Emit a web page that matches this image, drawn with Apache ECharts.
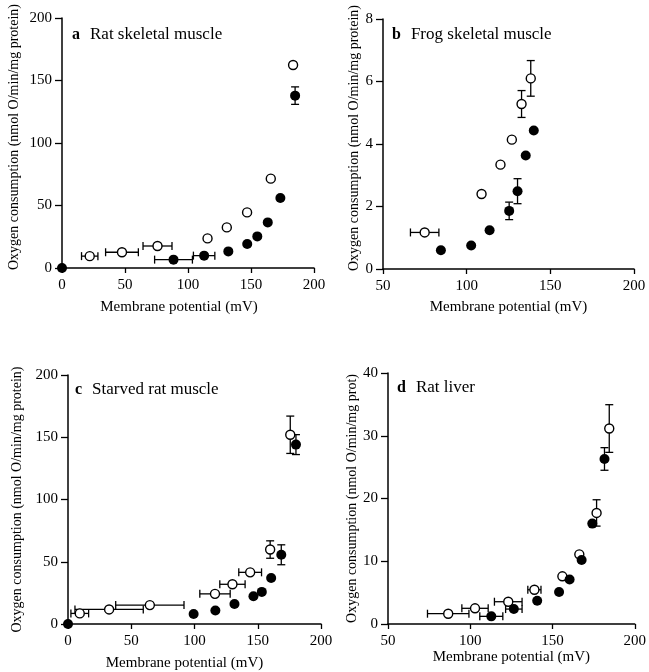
<!DOCTYPE html>
<html>
<head>
<meta charset="utf-8">
<script src="https://cdn.jsdelivr.net/npm/echarts@6/dist/echarts.min.js"></script>
<style>html,body{margin:0;padding:0;background:#fff;}#c{width:649px;height:672px;}</style>
</head>
<body>
<div id="c"></div>
<script>
// ---- Panel a: Rat skeletal muscle ----
const aOpenX = [22, 47.6, 75.8, 115.5, 130.8, 146.9, 165.7, 183.4];
const aOpenY = [9.5, 12.6, 17.6, 23.7, 32.5, 44.5, 71.5, 162.4];
const aOpenXErr = [6.5, 13, 11.5, 0, 0, 0, 0, 0];
const aOpenYErr = [0, 0, 0, 0, 0, 0, 0, 0];
const aFillX = [0, 88.5, 112.8, 132, 147, 155, 163.3, 173.3, 185];
const aFillY = [0, 6.7, 9.9, 13.3, 19.2, 25.3, 36.5, 56, 137.9];
const aFillXErr = [0, 15, 8.5, 0, 0, 0, 0, 0, 0];
const aFillYErr = [0, 0, 0, 0, 0, 0, 0, 0, 7];
// ---- Panel b: Frog skeletal muscle ----
const bOpenX = [74.9, 108.9, 120.2, 127, 132.8, 138.3];
const bOpenY = [1.17, 2.4, 3.34, 4.14, 5.28, 6.1];
const bOpenXErr = [8.5, 0, 0, 0, 0, 0];
const bOpenYErr = [0, 0, 0, 0, 0.43, 0.57];
const bFillX = [84.6, 102.7, 113.7, 125.4, 130.4, 135.3, 140.1];
const bFillY = [0.6, 0.75, 1.24, 1.86, 2.49, 3.63, 4.43];
const bFillXErr = [0, 0, 0, 0, 0, 0, 0];
const bFillYErr = [0, 0, 0, 0.28, 0.4, 0, 0];
// ---- Panel c: Starved rat muscle ----
const cOpenX = [9.3, 32.5, 64.7, 116.2, 130, 144, 159.8, 175.7];
const cOpenY = [8.5, 11.7, 15.2, 24.2, 31.9, 41.5, 59.8, 152];
const cOpenXErr = [7, 27, 27, 12, 10, 9, 0, 0];
const cOpenYErr = [0, 0, 0, 0, 0, 0, 7, 15];
const cFillX = [0, 99.3, 116.5, 131.6, 146.6, 153.2, 160.6, 168.6, 180.2];
const cFillY = [0, 8, 10.9, 16, 22.3, 25.8, 37, 55.6, 144.1];
const cFillXErr = [0, 0, 0, 0, 0, 0, 0, 0, 0];
const cFillYErr = [0, 0, 0, 0, 0, 0, 0, 8, 8];
// ---- Panel d: Rat liver ----
const dOpenX = [86.6, 102.9, 123.1, 139, 156, 166.3, 176.8, 184.5];
const dOpenY = [1.64, 2.5, 3.55, 5.46, 7.6, 11.1, 17.7, 31.15];
const dOpenXErr = [12.6, 8, 8.4, 4, 0, 0, 0, 0];
const dOpenYErr = [0, 0, 0, 0, 0, 0, 2.1, 3.8];
const dFillX = [112.8, 126.5, 140.7, 154, 160.4, 167.7, 174.2, 181.6];
const dFillY = [1.22, 2.38, 3.7, 5.1, 7.1, 10.2, 16, 26.3];
const dFillXErr = [7, 5, 0, 0, 0, 0, 0, 0];
const dFillYErr = [0, 0, 0, 0, 0, 0, 0, 1.8];

const panelLetters = ['a', 'b', 'c', 'd'];
const panelTitles = ['Rat skeletal muscle', 'Frog skeletal muscle', 'Starved rat muscle', 'Rat liver'];
const xName = 'Membrane potential (mV)';
const yNames = [
  'Oxygen consumption (nmol O/min/mg protein)',
  'Oxygen consumption (nmol O/min/mg protein)',
  'Oxygen consumption (nmol O/min/mg protein)',
  'Oxygen consumption (nmol O/min/mg prot)'
];
const xRanges = [[0, 200, 50], [50, 200, 50], [0, 200, 50], [50, 200, 50]];
const yRanges = [[0, 200, 50], [0, 8, 2], [0, 200, 50], [0, 40, 10]];

const panels = [
  {open: [aOpenX, aOpenY, aOpenXErr, aOpenYErr], fill: [aFillX, aFillY, aFillXErr, aFillYErr]},
  {open: [bOpenX, bOpenY, bOpenXErr, bOpenYErr], fill: [bFillX, bFillY, bFillXErr, bFillYErr]},
  {open: [cOpenX, cOpenY, cOpenXErr, cOpenYErr], fill: [cFillX, cFillY, cFillXErr, cFillYErr]},
  {open: [dOpenX, dOpenY, dOpenXErr, dOpenYErr], fill: [dFillX, dFillY, dFillXErr, dFillYErr]}
];

const FONT = "'Liberation Serif', 'Times New Roman', serif";
const gridBoxes = [
  {left: 62, top: 18, width: 252, height: 250},
  {left: 383, top: 19, width: 251, height: 250},
  {left: 68, top: 375, width: 253, height: 251},
  {left: 388, top: 373, width: 252, height: 251}
];
const yNameGaps = [41, 22, 44, 28];
const yNamePad = [[0, 0, 0, 12], [0, 0, 0, 12], [0, 0, 0, 0], [0, 0, 0, 0]];
const xNameGaps = [32, 31, 32, 21];
const xNamePad = [[0, 18, 0, 0], [0, 0, 0, 0], [0, 20, 0, 0], [0, 0, 0, 0]];
const titlePos = [{left: 72, top: 26}, {left: 392, top: 26}, {left: 75, top: 381}, {left: 397, top: 379}];

function toPts(arr) { return arr[0].map((x, i) => [x, arr[1][i], arr[2][i], arr[3][i]]); }

function errRender(params, api) {
  const x = api.value(0), y = api.value(1), xe = api.value(2), ye = api.value(3);
  const children = [];
  const cap = 4;
  const st = {stroke: '#000', lineWidth: 1.3};
  if (xe > 0) {
    const p1 = api.coord([x - xe, y]), p2 = api.coord([x + xe, y]);
    children.push({type: 'line', shape: {x1: p1[0], y1: p1[1], x2: p2[0], y2: p2[1]}, style: st});
    children.push({type: 'line', shape: {x1: p1[0], y1: p1[1] - cap, x2: p1[0], y2: p1[1] + cap}, style: st});
    children.push({type: 'line', shape: {x1: p2[0], y1: p2[1] - cap, x2: p2[0], y2: p2[1] + cap}, style: st});
  }
  if (ye > 0) {
    const p1 = api.coord([x, y - ye]), p2 = api.coord([x, y + ye]);
    children.push({type: 'line', shape: {x1: p1[0], y1: p1[1], x2: p2[0], y2: p2[1]}, style: st});
    children.push({type: 'line', shape: {x1: p1[0] - cap, y1: p1[1], x2: p1[0] + cap, y2: p1[1]}, style: st});
    children.push({type: 'line', shape: {x1: p2[0] - cap, y1: p2[1], x2: p2[0] + cap, y2: p2[1]}, style: st});
  }
  return {type: 'group', children: children};
}

const grid = [], xAxis = [], yAxis = [], series = [], title = [];
panels.forEach((p, i) => {
  grid.push(Object.assign({containLabel: false}, gridBoxes[i]));
  const axisCommon = {
    gridIndex: i,
    axisLine: {show: true, lineStyle: {color: '#000', width: 1.5}},
    splitLine: {show: false}
  };
  xAxis.push(Object.assign({}, axisCommon, {
    type: 'value', min: xRanges[i][0], max: xRanges[i][1], interval: xRanges[i][2],
    axisTick: {show: true, length: 5, lineStyle: {color: '#000', width: 1.3}},
    axisLabel: {color: '#000', fontFamily: FONT, fontSize: 15, margin: 10},
    name: xName, nameLocation: 'middle', nameGap: xNameGaps[i],
    nameTextStyle: {color: '#000', fontFamily: FONT, fontSize: 15, padding: xNamePad[i]}
  }));
  yAxis.push(Object.assign({}, axisCommon, {
    type: 'value', min: yRanges[i][0], max: yRanges[i][1], interval: yRanges[i][2],
    axisTick: {show: true, length: 7, lineStyle: {color: '#000', width: 1.3}},
    axisLabel: {color: '#000', fontFamily: FONT, fontSize: 15, margin: 10},
    name: yNames[i], nameLocation: 'middle', nameGap: yNameGaps[i],
    nameTextStyle: {color: '#000', fontFamily: FONT, fontSize: 14, padding: yNamePad[i]}
  }));
  title.push({
    text: '{b|' + panelLetters[i] + '}  {n|' + panelTitles[i] + '}',
    left: titlePos[i].left, top: titlePos[i].top, padding: 0,
    textStyle: {fontWeight: 'normal', rich: {
      b: {fontFamily: FONT, fontSize: 16, fontWeight: 'bold', color: '#000'},
      n: {fontFamily: FONT, fontSize: 17, fontWeight: 'normal', color: '#000'}
    }}
  });
  const openPts = toPts(p.open), fillPts = toPts(p.fill);
  series.push({type: 'custom', xAxisIndex: i, yAxisIndex: i, renderItem: errRender, data: openPts, z: 1, silent: true, clip: false});
  series.push({type: 'custom', xAxisIndex: i, yAxisIndex: i, renderItem: errRender, data: fillPts, z: 1, silent: true, clip: false});
  series.push({type: 'scatter', xAxisIndex: i, yAxisIndex: i, data: openPts.map(d => [d[0], d[1]]),
    symbol: 'circle', symbolSize: 9, z: 3,
    itemStyle: {color: '#fff', borderColor: '#000', borderWidth: 1.4, opacity: 1}});
  series.push({type: 'scatter', xAxisIndex: i, yAxisIndex: i, data: fillPts.map(d => [d[0], d[1]]),
    symbol: 'circle', symbolSize: 10, z: 4,
    itemStyle: {color: '#000', opacity: 1}});
});

const chart = echarts.init(document.getElementById('c'), null, {renderer: 'canvas'});
chart.setOption({animation: false, backgroundColor: '#fff', title, grid, xAxis, yAxis, series});
</script>
</body>
</html>
